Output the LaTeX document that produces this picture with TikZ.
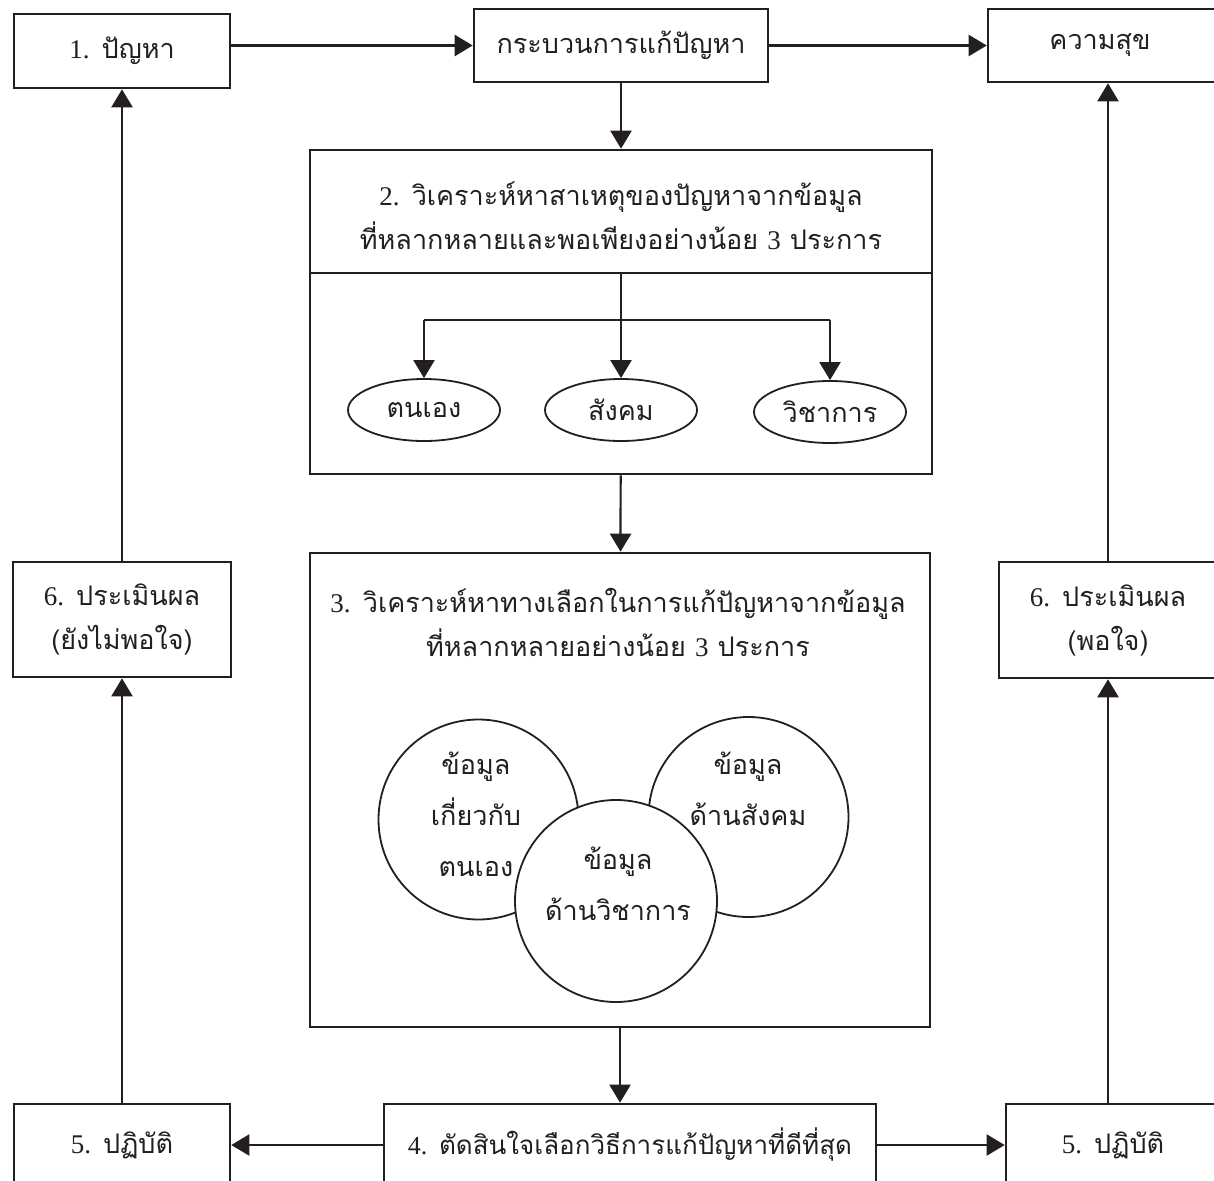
\documentclass[tikz,border=0pt]{standalone}
\usepackage{fontspec}
\newfontfamily\thai[Script=Thai]{Loma}
\newfontfamily\digf{Liberation Serif}
\usetikzlibrary{arrows.meta,shapes.geometric}
\definecolor{ink}{HTML}{231F20}
\newcommand\tsz{\fontsize{27}{44}\selectfont\thai}
\newcommand\nm[1]{{\digf #1}}
\begin{document}
\begin{tikzpicture}[x=1pt,y=-1pt,
  box/.style={draw=ink, line width=2.6pt, rectangle, inner sep=0pt, align=center, font=\tsz, text=ink},
  txt/.style={inner sep=0pt, align=center, font=\tsz, text=ink},
  arr/.style={draw=ink, line width=2.2pt, -{Triangle[length=18pt,width=21pt]}},
  ln/.style={draw=ink, line width=2.2pt},
  oval/.style={ellipse, draw=ink, line width=1.8pt, minimum width=152pt, minimum height=62pt, inner sep=0pt, font=\tsz, text=ink},
  circ/.style={circle, draw=ink, line width=1.8pt, minimum size=200pt, inner sep=0pt, fill=white}]
\useasboundingbox (0,0) rectangle (1214,1180);
\clip (0,0) rectangle (1214,1180);
\fill[white] (0,0) rectangle (1214,1180);

% top row
\node[box, minimum width=216pt, minimum height=74pt] (p1) at (122,51) {\nm{1.} ปัญหา};
\node[box, minimum width=294pt, minimum height=73pt] (proc) at (621,45.5) {กระบวนการแก้ปัญหา};
\node[box, minimum width=240pt, minimum height=73pt] (happy) at (1108,45.5) {ความสุข\hspace*{16pt}};

% box 2
\node[box, minimum width=622pt, minimum height=324pt] (b2) at (621,312) {};
\node[txt] (b2t) at (621,216) {\nm{2.} วิเคราะห์หาสาเหตุของปัญหาจากข้อมูล\\ที่หลากหลายและพอเพียงอย่างน้อย \nm{3} ประการ};
\coordinate (dv) at (621,273);
\draw[ln] (b2.west |- dv) -- (b2.east |- dv);
\coordinate (br) at (621,320);
\node[oval] (e1) at (424,410) {ตนเอง};
\node[oval] (e2) at (621,410) {สังคม};
\node[oval] (e3) at (830,412) {วิชาการ};
\draw[ln] (dv) -- (br);
\draw[ln] (e1 |- br) -- (e3 |- br);
\draw[arr] (e1 |- br) -- (e1);
\draw[arr] (br) -- (e2);
\draw[arr] (e3 |- br) -- (e3);

% box 3
\node[box, minimum width=620pt, minimum height=474pt] (b3) at (620,790) {};
\node[txt] (b3t) at (618,623) {\nm{3.} วิเคราะห์หาทางเลือกในการแก้ปัญหาจากข้อมูล\\ที่หลากหลายอย่างน้อย \nm{3} ประการ};
\node[circ] (c1) at (478.5,819.5) {};
\node[circ] (c2) at (748.5,817) {};
\node[circ, minimum size=202pt] (c3) at (616,901) {};
\node[txt, font=\fontsize{27}{51}\selectfont\thai] (c1t) at (476,814) {ข้อมูล\\เกี่ยวกับ\\ตนเอง};
\node[txt, font=\fontsize{27}{51}\selectfont\thai] (c2t) at (748,789) {ข้อมูล\\ด้านสังคม};
\node[txt, font=\fontsize{27}{51}\selectfont\thai] (c3t) at (618,884) {ข้อมูล\\ด้านวิชาการ};

% bottom row
\node[box, minimum width=216pt, minimum height=82pt] (l5) at (122,1145) {\nm{5.} ปฏิบัติ};
\node[box, minimum width=492pt, minimum height=82pt, font=\fontsize{26}{44}\selectfont\thai] (b4) at (630,1145) {\nm{4.} ตัดสินใจเลือกวิธีการแก้ปัญหาที่ดีที่สุด};
\node[box, minimum width=214pt, minimum height=82pt] (r5) at (1113,1145) {\nm{5.} ปฏิบัติ};

% evaluation boxes
\node[box, minimum width=218pt, minimum height=115pt] (l6) at (122,619.5) {\nm{6.} ประเมินผล\\(ยังไม่พอใจ)};
\node[box, minimum width=218pt, minimum height=116pt] (r6) at (1108,620) {\nm{6.} ประเมินผล\\(พอใจ)};

% connectors
\draw[arr] (p1.east |- proc) -- (proc);
\draw[arr] (proc) -- (happy);
\draw[arr] (proc) -- (b2);
\draw[arr] (b2) -- (b3);
\draw[arr] (b3.south) -- (b3.south |- b4.north);
\draw[arr] (b4) -- (l5);
\draw[arr] (b4) -- (r5);
\draw[arr] (l5) -- (l6);
\draw[arr] (l6) -- (p1);
\draw[arr] (r5.north -| r6) -- (r6);
\draw[arr] (r6) -- (happy);
\end{tikzpicture}
\end{document}
